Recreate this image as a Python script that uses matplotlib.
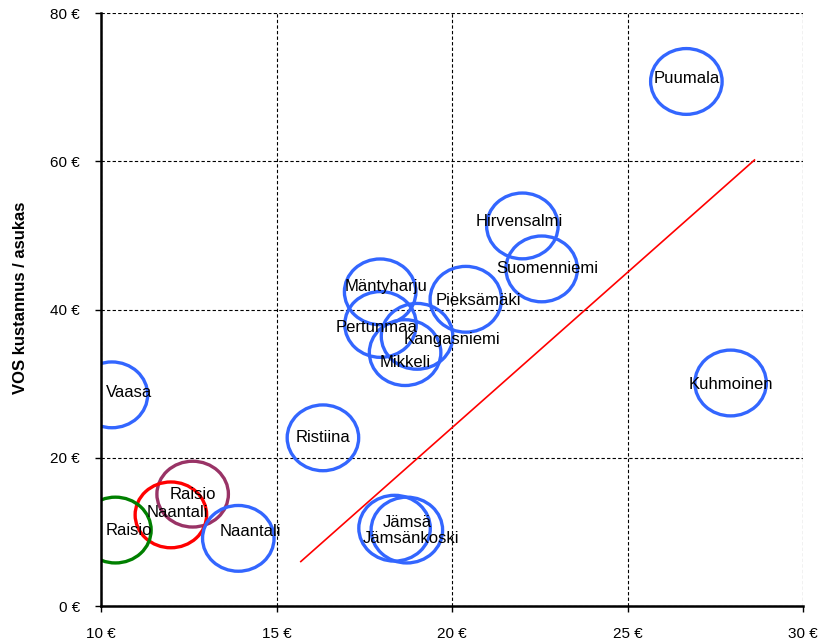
import matplotlib
matplotlib.use("Agg")
import matplotlib.pyplot as plt
from matplotlib.path import Path
from matplotlib import font_manager
import numpy as np

# Cost per resident (x: reference cost, y: VOS cost), both in euros
names = ["Puumala", "Hirvensalmi", "Suomenniemi", "Mäntyharju", "Pieksämäki",
         "Pertunmaa", "Kangasniemi", "Mikkeli", "Vaasa", "Kuhmoinen", "Ristiina",
         "Raisio", "Naantali", "Raisio", "Naantali", "Jämsä", "Jämsänkoski"]
x_cost = [26.67, 22.0, 22.55, 17.95, 20.39,
          17.96, 19.0, 18.66, 10.31, 27.93, 16.32,
          12.61, 11.99, 10.41, 13.91, 18.36, 18.71]
vos_cost = [70.8, 51.3, 45.5, 42.4, 41.4,
            38.0, 36.4, 34.2, 28.5, 30.1, 22.7,
            15.1, 12.3, 10.25, 9.13, 10.5, 10.25]

BLUE, PURPLE, RED, GREEN = "#3366FF", "#993366", "#FF0000", "#008000"
marker_colors = [BLUE] * 11 + [PURPLE, RED, GREEN, BLUE, BLUE, BLUE]

# label nudges in points (dx, dy)
label_offsets = [(0, 2), (-2, 3), (4, 0), (4, 4), (9, -1),
                 (-3, -2), (25, -2), (0, -7), (12, 2), (0, -1), (0, 0),
                 (0, 0), (5, 2), (10, 0), (9, 5), (9, 4), (3, -6)]

# trend line
line_x = [15.69, 28.61]
line_y = [6.0, 60.2]

x_ticks = [10, 15, 20, 25, 30]
y_ticks = [0, 20, 40, 60, 80]

available = {f.name for f in font_manager.fontManager.ttflist}
plt.rcParams["font.family"] = ["Liberation Sans", "DejaVu Sans"]
narrow = "Liberation Sans Narrow" in available

fig = plt.figure(figsize=(8.27, 6.42), dpi=100)
ax = fig.add_axes([101 / 827, 36 / 642, 702.3 / 827, 592.7 / 642])

ax.set_xlim(10, 30)
ax.set_ylim(0, 80)
ax.set_xticks(x_ticks)
ax.set_yticks(y_ticks)
ax.set_xticklabels([f"{v} €" for v in x_ticks])
ax.set_yticklabels([f"{v} €" for v in y_ticks])
ax.tick_params(axis="both", direction="out", length=4, width=1, color="black",
               labelsize=11, labelcolor="black")
ax.tick_params(axis="x", pad=11)
ax.tick_params(axis="y", pad=11)

ax.grid(True, color="black", linestyle=(0, (3, 2)), linewidth=0.8)
ax.set_axisbelow(True)
for side in ("top", "right"):
    ax.spines[side].set_visible(False)
for side in ("left", "bottom"):
    ax.spines[side].set_linewidth(1.8)
    ax.spines[side].set_zorder(5)

# slightly flattened ellipse marker
circ = Path.unit_circle()
ell = Path(circ.vertices * np.array([1.0, 0.92]), circ.codes)

ax.plot(line_x, line_y, color=RED, linewidth=1.2, zorder=2)

ax.scatter(x_cost, vos_cost, marker=ell, s=2650, facecolors="none",
           edgecolors=marker_colors, linewidths=2.4, zorder=3)

for name, xv, yv, (dx, dy) in zip(names, x_cost, vos_cost, label_offsets):
    ax.annotate(name, (xv, yv), xytext=(dx, dy), textcoords="offset points",
                ha="center", va="center", fontsize=12, color="black",
                zorder=4, annotation_clip=False)

if narrow:
    ax.set_ylabel("VOS kustannus / asukas", fontsize=14, fontweight="bold",
                  family="Liberation Sans Narrow")
else:
    ax.set_ylabel("VOS kustannus / asukas", fontsize=12, fontweight="bold")
ax.yaxis.set_label_coords(-0.104, 0.52)

fig.savefig("out.png", dpi=100)
